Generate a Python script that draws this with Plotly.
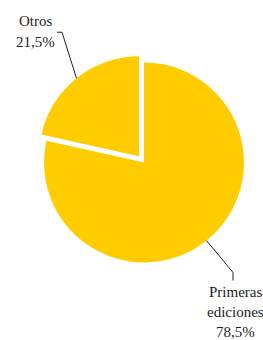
import math
import plotly.graph_objects as go

labels = ["Otros", "Primeras ediciones"]
values = [21.5, 78.5]
label_lines = [["Otros", "21,5%"], ["Primeras", "ediciones", "78,5%"]]
pulls = [0.08, 0.0]
colors = ["#FFCC00", "#FFCC00"]

W, H = 263, 340
cx, cy, R = 144, 162.5, 100  # pie centre / radius in px
half = R * (1 + max(pulls))
total = sum(values)

fig = go.Figure(go.Pie(
    labels=labels, values=values, sort=False, direction="counterclockwise",
    rotation=-values[0] / total * 360, pull=pulls,
    marker=dict(colors=colors, line=dict(width=0)),
    textinfo="none", hoverinfo="label+percent", showlegend=False,
    domain=dict(x=[(cx - half) / W, (cx + half) / W],
                y=[(H - cy - half) / H, (H - cy + half) / H]),
))

def px(x, y):
    return x / W, 1 - y / H

# leader-line layout: elbow offset from edge point, end offset from elbow, label centre x, first line y, line gap
leader_style = [
    dict(elbow=(-14.5, -46), end=(-5, 0), tx=35, ty=21, gap=21),
    dict(elbow=(26.5, 32), end=(0, 8), tx=235, ty=292, gap=20),
]

cum = 0
shapes, annotations = [], []
for i, v in enumerate(values):
    mid = (cum + v / 2) / total * 2 * math.pi
    cum += v
    r = R * (1 + pulls[i])
    sx = cx - r * math.sin(mid)
    sy = cy - r * math.cos(mid)
    st = leader_style[i]
    ex, ey = sx + st["elbow"][0], sy + st["elbow"][1]
    fx, fy = ex + st["end"][0], ey + st["end"][1]
    path = "M {} {} L {} {} L {} {}".format(*px(sx, sy), *px(ex, ey), *px(fx, fy))
    shapes.append(dict(type="path", xref="paper", yref="paper", path=path,
                       line=dict(color="#222222", width=1)))
    for j, t in enumerate(label_lines[i]):
        x, y = px(st["tx"], st["ty"] + j * st["gap"])
        annotations.append(dict(text=t, x=x, y=y, xref="paper", yref="paper",
                                xanchor="center", yanchor="middle", showarrow=False,
                                font=dict(family="Liberation Serif", size=15, color="#222222")))

fig.update_layout(width=W, height=H, margin=dict(l=0, r=0, t=0, b=0),
                  paper_bgcolor="white", plot_bgcolor="white",
                  shapes=shapes, annotations=annotations)
fig.write_html("out.html", config={"displayModeBar": False},
               post_script="document.body.style.margin='0';")
